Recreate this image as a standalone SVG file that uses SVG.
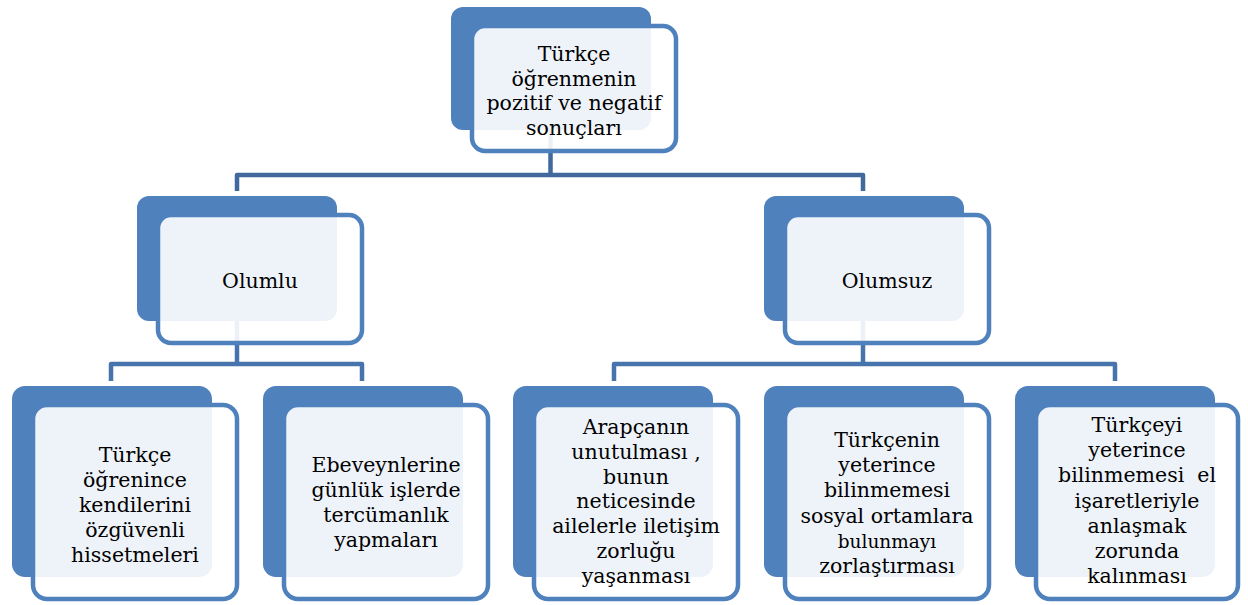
<svg xmlns="http://www.w3.org/2000/svg" width="1248" height="605" viewBox="0 0 1248 605">
<style>
.back{fill:#4F81BD}
.front{fill:#FFFFFF;fill-opacity:0.9;stroke:#4F81BD;stroke-width:4.5}
.c1{fill:none;stroke:#41699D;stroke-width:4.5;stroke-linejoin:round}
.c2{fill:none;stroke:#4874AD;stroke-width:4.5;stroke-linejoin:round}
text{font-family:"DejaVu Serif","Liberation Serif",serif;font-size:20.5px;fill:#000;text-anchor:middle;white-space:pre}
.sm{font-size:18.5px}
</style>
<rect width="1248" height="605" fill="#FFFFFF"/>
<g id="connectors">
<path class="c1" d="M550.5,130 V175"/>
<path class="c1" d="M237,191 V175 H863 V191"/>
<path class="c2" d="M237,321 V364"/>
<path class="c2" d="M111,381 V364 H362 V381"/>
<path class="c2" d="M863,321 V364"/>
<path class="c2" d="M614,381 V364 H1115 V381"/>
</g>
<g id="node-root">
<rect class="back" x="451" y="7" width="200" height="123" rx="12"/>
<rect class="front" x="472" y="26" width="204" height="125" rx="13"/>
<text x="574" y="61">Türkçe</text>
<text x="574" y="86">öğrenmenin</text>
<text x="574" y="110">pozitif ve negatif</text>
<text x="574" y="135">sonuçları</text>
</g>
<g id="node-olumlu">
<rect class="back" x="137" y="196" width="200" height="125" rx="12"/>
<rect class="front" x="158" y="215" width="204" height="128" rx="13"/>
<text x="260" y="288">Olumlu</text>
</g>
<g id="node-olumsuz">
<rect class="back" x="764" y="196" width="200" height="125" rx="12"/>
<rect class="front" x="785" y="215" width="204" height="128" rx="13"/>
<text x="887" y="288">Olumsuz</text>
</g>
<g id="node-b1">
<rect class="back" x="12" y="386" width="200" height="191" rx="13"/>
<rect class="front" x="33" y="405" width="204" height="194" rx="14"/>
<text x="135" y="462">Türkçe</text>
<text x="135" y="487">öğrenince</text>
<text x="135" y="512">kendilerini</text>
<text x="135" y="537">özgüvenli</text>
<text x="135" y="562">hissetmeleri</text>
</g>
<g id="node-b2">
<rect class="back" x="263" y="386" width="200" height="191" rx="13"/>
<rect class="front" x="284" y="405" width="204" height="194" rx="14"/>
<text x="386" y="472">Ebeveynlerine</text>
<text x="386" y="497">günlük işlerde</text>
<text x="386" y="522">tercümanlık</text>
<text x="386" y="547">yapmaları</text>
</g>
<g id="node-b3">
<rect class="back" x="513" y="386" width="200" height="191" rx="13"/>
<rect class="front" x="534" y="405" width="204" height="194" rx="14"/>
<text x="636" y="434">Arapçanın</text>
<text x="636" y="459">unutulması ,</text>
<text x="636" y="484">bunun</text>
<text x="636" y="508">neticesinde</text>
<text x="636" y="533">ailelerle iletişim</text>
<text x="636" y="558">zorluğu</text>
<text x="636" y="583">yaşanması</text>
</g>
<g id="node-b4">
<rect class="back" x="764" y="386" width="200" height="191" rx="13"/>
<rect class="front" x="785" y="405" width="204" height="194" rx="14"/>
<text x="887" y="447">Türkçenin</text>
<text x="887" y="472">yeterince</text>
<text x="887" y="497">bilinmemesi</text>
<text x="887" y="523">sosyal ortamlara</text>
<text class="sm" x="887" y="548">bulunmayı</text>
<text x="887" y="573">zorlaştırması</text>
</g>
<g id="node-b5">
<rect class="back" x="1015" y="386" width="200" height="191" rx="13"/>
<rect class="front" x="1036" y="405" width="202" height="194" rx="14"/>
<text x="1137" y="432">Türkçeyi</text>
<text x="1137" y="457">yeterince</text>
<text x="1137" y="482">bilinmemesi  el</text>
<text x="1137" y="508">işaretleriyle</text>
<text x="1137" y="533">anlaşmak</text>
<text x="1137" y="558">zorunda</text>
<text x="1137" y="583">kalınması</text>
</g>
</svg>
